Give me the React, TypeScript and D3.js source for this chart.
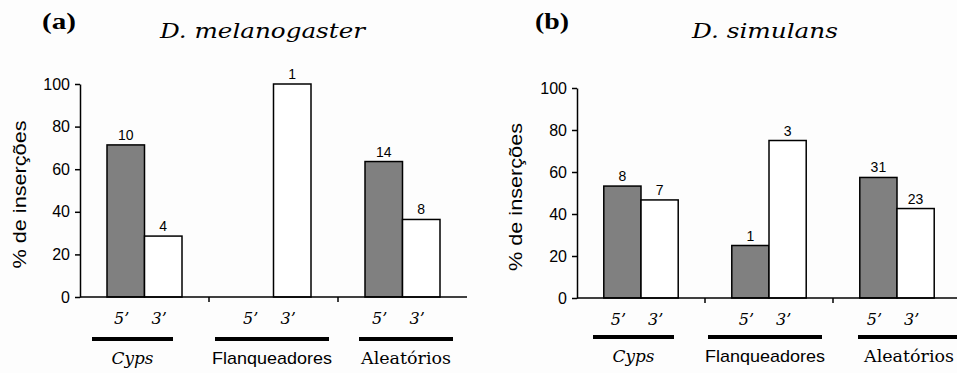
import * as d3 from "d3";
import { useEffect, useRef } from "react";

// categories and series
const groups = ["Cyps", "Flanqueadores", "Aleatórios"];
const ends = ["5’", "3’"];

// % of insertions, panel (a) D. melanogaster
const melano5 = [71.4, 0, 63.6];
const melano3 = [28.6, 100, 36.4];
const melanoN5 = ["10", "", "14"];
const melanoN3 = ["4", "1", "8"];

// % of insertions, panel (b) D. simulans
const simul5 = [53.3, 25, 57.4];
const simul3 = [46.7, 75, 42.6];
const simulN5 = ["8", "1", "31"];
const simulN3 = ["7", "3", "23"];

const yTicks = [0, 20, 40, 60, 80, 100];

// rough printed widths of the group names
const groupLen: Record<string, number> = { Cyps: 42, Flanqueadores: 120, "Aleatórios": 90 };

type Panel = {
  tag: string;
  title: string;
  titleX: number;
  titleLen: number;
  tagX: number;
  x0: number;
  band: number;
  yTop: number;
  yBottom: number;
  labelX: number;
  v5: number[];
  v3: number[];
  n5: string[];
  n3: string[];
  lineSpans: [number, number][];
  lineY: number;
};

const panels: Panel[] = [
  {
    tag: "(a)",
    title: "D. melanogaster",
    titleX: 160,
    titleLen: 205,
    tagX: 42,
    x0: 80,
    band: 129,
    yTop: 84,
    yBottom: 297,
    labelX: 19,
    v5: melano5,
    v3: melano3,
    n5: melanoN5,
    n3: melanoN3,
    lineSpans: [[92, 173], [215, 329], [359, 453]],
    lineY: 339,
  },
  {
    tag: "(b)",
    title: "D. simulans",
    titleX: 692,
    titleLen: 146,
    tagX: 535,
    x0: 577,
    band: 128,
    yTop: 88,
    yBottom: 298,
    labelX: 515,
    v5: simul5,
    v3: simul3,
    n5: simulN5,
    n3: simulN3,
    lineSpans: [[593, 674], [708, 822], [858, 960]],
    lineY: 337,
  },
];

const sans = "'Liberation Sans', Arial, sans-serif";
const serif = "'DejaVu Serif', 'Liberation Serif', serif";

export default function App() {
  const ref = useRef<SVGSVGElement | null>(null);

  useEffect(() => {
    if (!ref.current) return;
    const svg = d3.select(ref.current);
    svg.selectAll("*").remove();

    svg.append("rect").attr("width", 957).attr("height", 373).attr("fill", "#fdfdfd");

    panels.forEach((p) => {
      const g = svg.append("g");

      const x = d3
        .scaleBand()
        .domain(groups)
        .range([p.x0, p.x0 + p.band * 3])
        .padding(0);

      const xi = d3
        .scaleBand()
        .domain(ends)
        .range([0, x.bandwidth()])
        .paddingInner(0)
        .paddingOuter(0.72);

      const y = d3.scaleLinear().domain([0, 100]).range([p.yBottom, p.yTop]);

      // titles
      g.append("text")
        .attr("x", p.tagX)
        .attr("y", 29)
        .attr("font-family", "'Liberation Serif', 'Times New Roman', serif")
        .attr("font-weight", "bold")
        .attr("font-size", 23)
        .attr("textLength", 34)
        .attr("lengthAdjust", "spacingAndGlyphs")
        .text(p.tag);

      g.append("text")
        .attr("x", p.titleX)
        .attr("y", 38)
        .attr("font-family", serif)
        .attr("font-style", "italic")
        .attr("font-size", 21)
        .attr("textLength", p.titleLen)
        .attr("lengthAdjust", "spacingAndGlyphs")
        .text(p.title);

      // y axis
      const yAxis = d3
        .axisLeft(y)
        .tickValues(yTicks)
        .tickSize(5)
        .tickSizeOuter(0)
        .tickFormat(d3.format("d"));
      const ya = g
        .append("g")
        .attr("transform", `translate(${p.x0},0)`)
        .call(yAxis);
      ya.select(".domain").attr("stroke", "#000").attr("stroke-width", 1.5);
      ya.selectAll(".tick line").attr("stroke", "#000").attr("stroke-width", 1.5);
      ya.selectAll(".tick text")
        .attr("font-family", sans)
        .attr("font-size", 16)
        .attr("fill", "#000")
        .attr("x", -10);

      g.append("text")
        .attr("transform", `translate(${p.labelX},${(p.yTop + p.yBottom) / 2 + 4}) rotate(-90)`)
        .attr("text-anchor", "middle")
        .attr("dominant-baseline", "central")
        .attr("font-family", sans)
        .attr("font-size", 19)
        .attr("textLength", 148)
        .attr("lengthAdjust", "spacingAndGlyphs")
        .text("% de inserções");

      // bars
      const rows = groups.map((grp, i) => [
        { grp, end: ends[0], v: p.v5[i], n: p.n5[i], fill: "#808080" },
        { grp, end: ends[1], v: p.v3[i], n: p.n3[i], fill: "#ffffff" },
      ]).flat();

      g.append("g")
        .selectAll("rect")
        .data(rows.filter((d) => d.v > 0))
        .join("rect")
        .attr("x", (d) => x(d.grp)! + xi(d.end)!)
        .attr("y", (d) => y(d.v))
        .attr("width", xi.bandwidth())
        .attr("height", (d) => y(0) - y(d.v))
        .attr("fill", (d) => d.fill)
        .attr("stroke", "#000")
        .attr("stroke-width", 1.5);

      g.append("g")
        .selectAll("text")
        .data(rows.filter((d) => d.n !== ""))
        .join("text")
        .attr("x", (d) => x(d.grp)! + xi(d.end)! + xi.bandwidth() / 2)
        .attr("y", (d) => y(d.v) - 5)
        .attr("text-anchor", "middle")
        .attr("font-family", sans)
        .attr("font-size", 14)
        .text((d) => d.n);

      // x axis line with category ticks
      g.append("line")
        .attr("x1", p.x0)
        .attr("x2", p.x0 + p.band * 3)
        .attr("y1", y(0))
        .attr("y2", y(0))
        .attr("stroke", "#000")
        .attr("stroke-width", 1.5);

      g.append("g")
        .selectAll("line")
        .data(groups.slice(1))
        .join("line")
        .attr("x1", (d) => x(d)!)
        .attr("x2", (d) => x(d)!)
        .attr("y1", y(0))
        .attr("y2", y(0) + 5)
        .attr("stroke", "#000")
        .attr("stroke-width", 1.5);

      // 5' / 3' labels
      g.append("g")
        .selectAll("text")
        .data(rows)
        .join("text")
        .attr("x", (d) => x(d.grp)! + xi(d.end)! + xi.bandwidth() / 2 - 4)
        .attr("y", p.yBottom + 27)
        .attr("text-anchor", "middle")
        .attr("font-family", serif)
        .attr("font-style", "italic")
        .attr("font-size", 16)
        .text((d) => d.end);

      // group underlines and names
      g.append("g")
        .selectAll("line")
        .data(p.lineSpans)
        .join("line")
        .attr("x1", (d) => d[0])
        .attr("x2", (d) => d[1])
        .attr("y1", p.lineY)
        .attr("y2", p.lineY)
        .attr("stroke", "#000")
        .attr("stroke-width", 4);

      g.append("g")
        .selectAll("text")
        .data(groups)
        .join("text")
        .attr("x", (d, i) => (p.lineSpans[i][0] + p.lineSpans[i][1]) / 2)
        .attr("y", p.lineY + 25)
        .attr("text-anchor", "middle")
        .attr("font-family", (d) => (d === "Flanqueadores" ? sans : serif))
        .attr("font-style", (d) => (d === "Cyps" ? "italic" : "normal"))
        .attr("font-size", 17)
        .attr("textLength", (d) => groupLen[d])
        .attr("lengthAdjust", "spacingAndGlyphs")
        .text((d) => d);
    });
  }, []);

  return (
    <svg
      ref={ref}
      width={957}
      height={373}
      style={{ position: "absolute", left: 0, top: 0, display: "block" }}
    />
  );
}
